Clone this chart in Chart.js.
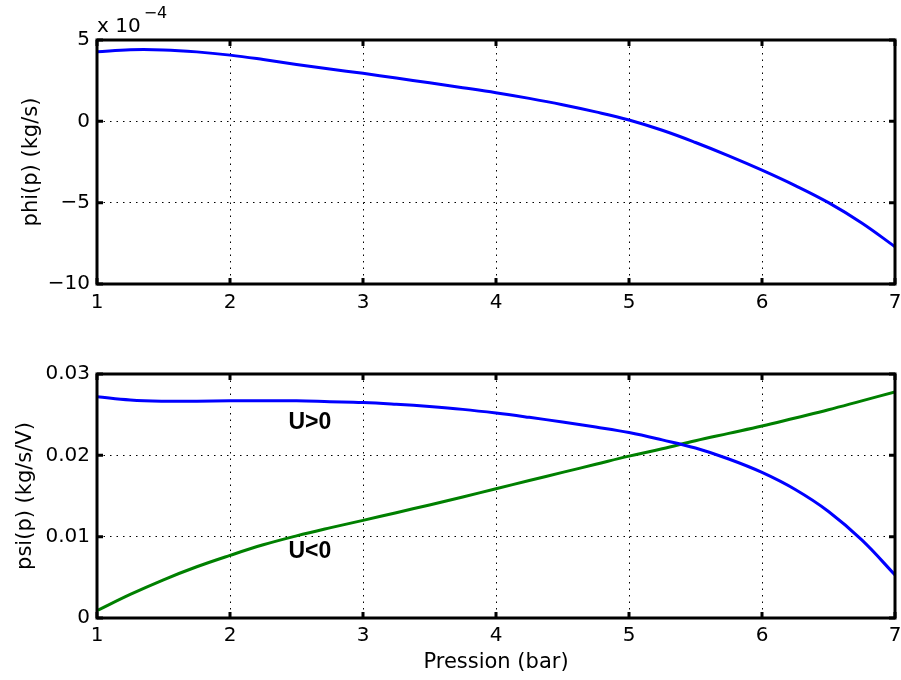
<!DOCTYPE html>
<html>
<head>
<meta charset="utf-8">
<script src="https://cdn.jsdelivr.net/npm/chart.js@4.4.1/dist/chart.umd.min.js"></script>
<style>
  html, body { margin: 0; padding: 0; background: #fff; }
  #wrap { position: relative; width: 901px; height: 680px; }
  canvas { position: absolute; left: 0; }
  #phiChart { top: 0; }
  #psiChart { top: 330px; }
</style>
</head>
<body>
<div id="wrap">
  <canvas id="phiChart" width="901" height="330"></canvas>
  <canvas id="psiChart" width="901" height="350"></canvas>
</div>
<script>
// pression (bar), same grid for both plots
var pression = [1, 1.25, 1.5, 1.75, 2, 2.25, 2.5, 2.75, 3, 3.25, 3.5, 3.75, 4,
                4.25, 4.5, 4.75, 5, 5.25, 5.5, 5.75, 6, 6.25, 6.5, 6.75, 7];
// phi(p) in units of 1e-4 kg/s
var phi = [4.28, 4.40, 4.39, 4.27, 4.07, 3.80, 3.50, 3.22, 2.95, 2.66, 2.37, 2.07, 1.76,
           1.41, 1.02, 0.58, 0.08, -0.55, -1.30, -2.12, -3.00, -3.95, -5.00, -6.25, -7.71];
// psi(p) in kg/s/V
var psiPos = [0.0272, 0.0268, 0.02665, 0.02665, 0.0267, 0.0267, 0.0267, 0.0266, 0.0265,
              0.02628, 0.0260, 0.02565, 0.0252, 0.02467, 0.0241, 0.02348, 0.0228, 0.0219,
              0.0209, 0.01955, 0.0179, 0.0158, 0.0131, 0.0096, 0.0053];
var psiNeg = [0.0009, 0.0029, 0.0047, 0.0063, 0.0077, 0.0090, 0.0101, 0.01108, 0.0120,
              0.01295, 0.0139, 0.01488, 0.0159, 0.0169, 0.0179, 0.0189, 0.0199, 0.0208,
              0.0218, 0.0227, 0.0236, 0.0246, 0.0256, 0.0267, 0.0278];

var xTicks = [1, 2, 3, 4, 5, 6, 7];
var phiTicks = [-10, -5, 0, 5];
var psiTicks = [0, 0.01, 0.02, 0.03];
var curveLabels = [
  { text: 'U>0', x: 2.6, y: 0.02405 },
  { text: 'U<0', x: 2.6, y: 0.0081 }
];

var tickFont = { family: 'DejaVu Sans', size: 20 };
var titleFont = { family: 'DejaVu Sans', size: 21 };

function pts(xs, ys) {
  return xs.map(function (x, i) { return { x: x, y: ys[i] }; });
}

function minusSign(s) {
  return String(s).replace('-', '\u2212');
}

// matlab style box with inward ticks on all four sides
var boxPlugin = {
  id: 'box',
  afterDraw: function (chart) {
    var c = chart.ctx, a = chart.chartArea;
    var sx = chart.scales.x, sy = chart.scales.y;
    c.save();
    c.strokeStyle = '#000';
    c.lineWidth = 3;
    sx.ticks.forEach(function (t) {
      var px = sx.getPixelForValue(t.value);
      c.beginPath();
      c.moveTo(px, a.bottom); c.lineTo(px, a.bottom - 6);
      c.moveTo(px, a.top); c.lineTo(px, a.top + 6);
      c.stroke();
    });
    sy.ticks.forEach(function (t) {
      var py = sy.getPixelForValue(t.value);
      c.beginPath();
      c.moveTo(a.left, py); c.lineTo(a.left + 6, py);
      c.moveTo(a.right, py); c.lineTo(a.right - 6, py);
      c.stroke();
    });
    c.strokeRect(a.left, a.top, a.right - a.left, a.bottom - a.top);
    c.restore();
  }
};

function xScale(pad, title) {
  return {
    type: 'linear',
    min: 1,
    max: 7,
    afterBuildTicks: function (s) { s.ticks = xTicks.map(function (v) { return { value: v }; }); },
    afterFit: function (s) { s.height = title ? 62 : 46; s.paddingRight = 0; s.paddingLeft = 0; },
    ticks: { color: '#000', font: tickFont, padding: pad, maxRotation: 0 },
    grid: { color: '#000', lineWidth: 1, drawTicks: false },
    border: { display: false, dash: [1.5, 5] },
    title: {
      display: !!title,
      text: title || '',
      color: '#000',
      font: titleFont,
      padding: { top: 0, bottom: 5 }
    }
  };
}

function yScale(min, max, ticks, fmt, title, tpad) {
  return {
    type: 'linear',
    min: min,
    max: max,
    afterBuildTicks: function (s) { s.ticks = ticks.map(function (v) { return { value: v }; }); },
    afterFit: function (s) { s.width = 97; },
    ticks: { color: '#000', font: tickFont, padding: 7, callback: fmt },
    grid: { color: '#000', lineWidth: 1, drawTicks: false },
    border: { display: false, dash: [1.5, 5] },
    title: {
      display: true,
      text: title,
      color: '#000',
      font: titleFont,
      padding: { top: tpad, bottom: 0 }
    }
  };
}

var ctx = document.getElementById('phiChart').getContext('2d');
var ctx2 = document.getElementById('psiChart').getContext('2d');

var chart = new Chart(ctx, {
  type: 'line',
  data: {
    datasets: [{
      label: 'phi',
      data: pts(pression, phi),
      borderColor: '#0000ff',
      borderWidth: 3,
      pointRadius: 0,
      tension: 0.4,
      fill: false
    }]
  },
  options: {
    responsive: false,
    animation: false,
    layout: { padding: { top: 40, right: 6, left: 0, bottom: 0 } },
    plugins: { legend: { display: false }, tooltip: { enabled: false } },
    scales: {
      x: xScale(7, null),
      y: yScale(-10, 5, phiTicks, function (v) { return minusSign(v); }, 'phi(p) (kg/s)', 19)
    }
  },
  plugins: [boxPlugin, {
    id: 'exponent',
    afterDraw: function (ch) {
      var c = ch.ctx;
      c.save();
      c.fillStyle = '#000';
      c.textBaseline = 'alphabetic';
      c.textAlign = 'left';
      c.font = '20px "DejaVu Sans"';
      c.fillText('x 10', 97, 32);
      var w = c.measureText('x 10').width;
      c.font = '16px "DejaVu Sans"';
      c.fillText('\u22124', 97 + w + 3, 18);
      c.restore();
    }
  }]
});

var chart2 = new Chart(ctx2, {
  type: 'line',
  data: {
    datasets: [{
      label: 'U>0',
      data: pts(pression, psiPos),
      borderColor: '#0000ff',
      borderWidth: 3,
      pointRadius: 0,
      tension: 0.4,
      fill: false
    }, {
      label: 'U<0',
      data: pts(pression, psiNeg),
      borderColor: '#008000',
      borderWidth: 3,
      pointRadius: 0,
      tension: 0.4,
      fill: false
    }]
  },
  options: {
    responsive: false,
    animation: false,
    layout: { padding: { top: 44, right: 6, left: 0, bottom: 0 } },
    plugins: { legend: { display: false }, tooltip: { enabled: false } },
    scales: {
      x: xScale(6, 'Pression (bar)'),
      y: yScale(0, 0.03, psiTicks, function (v) { return v === 0 ? '0' : v.toFixed(2); },
                'psi(p) (kg/s/V)', 13)
    }
  },
  plugins: [boxPlugin, {
    id: 'curveLabels',
    afterDatasetsDraw: function (ch) {
      var c = ch.ctx;
      c.save();
      c.fillStyle = '#000';
      c.font = 'bold 23px "Liberation Sans"';
      c.textAlign = 'center';
      c.textBaseline = 'middle';
      curveLabels.forEach(function (l) {
        c.fillText(l.text, ch.scales.x.getPixelForValue(l.x), ch.scales.y.getPixelForValue(l.y));
      });
      c.restore();
    }
  }]
});
</script>
</body>
</html>
